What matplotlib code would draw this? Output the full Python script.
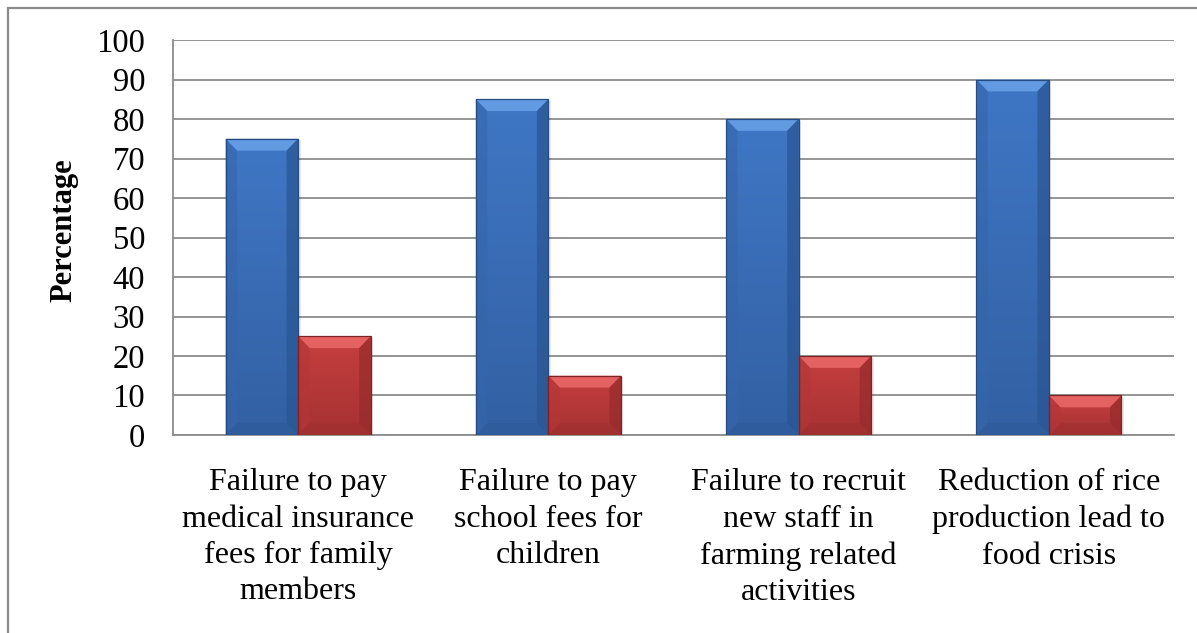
import numpy as np
import matplotlib.pyplot as plt
from matplotlib.patches import Polygon, Rectangle
from matplotlib.colors import LinearSegmentedColormap

# survey responses (percent)
categories = [
    "Failure to pay\nmedical insurance\nfees for family\nmembers",
    "Failure to pay\nschool fees for\nchildren",
    "Failure to recruit\nnew staff in\nfarming related\nactivities",
    "Reduction of rice\nproduction lead to\nfood crisis",
]
yes_pct = [75, 85, 80, 90]
no_pct = [25, 15, 20, 10]
y_ticks = [0, 10, 20, 30, 40, 50, 60, 70, 80, 90, 100]

plt.rcParams['font.family'] = ['Liberation Serif', 'DejaVu Serif']

fig = plt.figure(figsize=(11.97, 6.33), dpi=100)
ax = fig.add_axes([0.1445, 0.3128, 0.8363, 0.624])

# outer chart frame (runs off the right/bottom edge)
fig.add_artist(Rectangle((8 / 1197, -0.1), 1.2, 1 - 8 / 633 + 0.1,
                         transform=fig.transFigure, fill=False,
                         edgecolor='#8a8a8a', lw=1.6, clip_on=False))

x = np.arange(len(categories))
w = 0.29
blue = ax.bar(x - w / 2, yes_pct, w, color='#3a6db4', zorder=3, lw=0)
red = ax.bar(x + w / 2, no_pct, w, color='#bf3a3b', zorder=3, lw=0)

grad = np.linspace(0, 1, 256).reshape(-1, 1)


def bevel(bars, face_lo, face_hi, top_c, left_c, right_c, bottom_c, edge_c):
    cmap = LinearSegmentedColormap.from_list('face', [face_lo, face_hi])
    dx, dy = 0.046, 3.0
    for b in bars:
        x0 = b.get_x()
        x1 = x0 + b.get_width()
        h = b.get_height()
        # soft drop shadow
        ax.add_patch(Rectangle((x0 + 0.01, -0.4), x1 - x0, h, color='#000000',
                               alpha=0.09, lw=0, zorder=2.5))
        # vertical shading on the face
        im = ax.imshow(grad, cmap=cmap, origin='lower', aspect='auto',
                       extent=(x0, x1, 0, h), zorder=3.5, interpolation='bilinear')
        im.set_clip_path(b)
        ax.add_patch(Polygon([(x0, h), (x1, h), (x1 - dx, h - dy), (x0 + dx, h - dy)],
                             closed=True, color=top_c, lw=0, zorder=4))
        ax.add_patch(Polygon([(x0, 0), (x0, h), (x0 + dx, h - dy), (x0 + dx, dy)],
                             closed=True, color=left_c, lw=0, zorder=4, alpha=0.6))
        ax.add_patch(Polygon([(x1, 0), (x1, h), (x1 - dx, h - dy), (x1 - dx, dy)],
                             closed=True, color=right_c, lw=0, zorder=4, alpha=0.7))
        ax.add_patch(Polygon([(x0, 0), (x1, 0), (x1 - dx, dy), (x0 + dx, dy)],
                             closed=True, color=bottom_c, lw=0, zorder=4, alpha=0.6))
        ax.add_patch(Rectangle((x0, 0), x1 - x0, h, fill=False,
                               edgecolor=edge_c, lw=0.9, zorder=5))


bevel(blue, '#3360a3', '#3f77c5', '#629be2', '#3566ab', '#2a5592', '#2d5a98', '#254b82')
bevel(red, '#a63132', '#c63f3f', '#e46261', '#b53637', '#962b2c', '#a03031', '#7e2424')

ax.set_xlim(-0.5, 3.5)
ax.set_ylim(0, 100)
ax.set_yticks(y_ticks)
ax.set_xticks(x)
ax.set_xticklabels(categories, fontsize=23, linespacing=1.33, va='top')
ax.tick_params(axis='y', length=0, pad=20, labelsize=23.5)
ax.tick_params(axis='x', length=0, pad=24)

ax.grid(axis='y', color='#8c8c8c', lw=1.3, zorder=1)
ax.set_axisbelow(True)
for s in ['top', 'right']:
    ax.spines[s].set_visible(False)
for s in ['left', 'bottom']:
    ax.spines[s].set_color('#8c8c8c')
    ax.spines[s].set_linewidth(1.3)

ax.set_ylabel('Percentage', fontsize=22, fontweight='bold')
ax.yaxis.set_label_coords(-0.094, 0.518)

fig.savefig('out.png', dpi=100)
